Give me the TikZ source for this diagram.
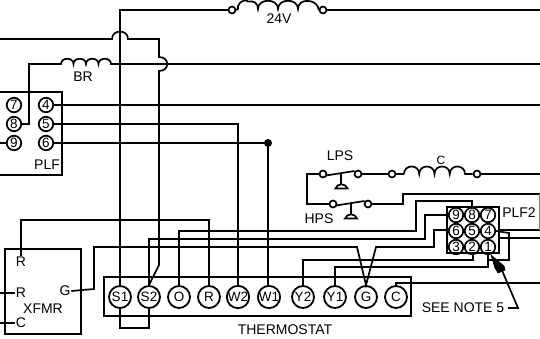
\documentclass[tikz,border=0pt]{standalone}
\usepackage{fontspec}
\setmainfont{Liberation Sans}
\newcommand{\coilseg}[2]{.. controls +(0,-#2) and +(0,-#2) .. ++(#1,0)
 .. controls +(0,-#2) and +(0,-#2) .. ++(#1,0)
 .. controls +(0,-#2) and +(0,-#2) .. ++(#1,0)
 .. controls +(0,-#2) and +(0,-#2) .. ++(#1,0)}
\begin{document}
\begin{tikzpicture}[x=1pt,y=-1pt,line width=1.7pt,line join=miter,
  term/.style={draw,circle,inner sep=0pt,minimum size=22pt,font=\fontsize{13.5}{14}\selectfont,line width=1.8pt},
  pin/.style={draw,circle,inner sep=0pt,minimum size=14.5pt,font=\fontsize{13.5}{14}\selectfont,line width=1.7pt},
  contact/.style={draw,circle,inner sep=0pt,minimum size=7pt,fill=white,line width=1.7pt},
  lbl/.style={inner sep=0pt,font=\fontsize{14}{14}\selectfont},
  joint/.style={circle,fill=black,inner sep=0pt,minimum size=8pt},
  boxed/.style={draw,line width=1.7pt}]
\useasboundingbox (0,0) rectangle (540,338);
% boxes
\draw[boxed,line width=1.3pt] (0,92) -- (62,92) -- (62,175) -- (0,175);
\draw[boxed] (5,249) rectangle (81,334);
\draw[boxed] (104,277) rectangle (411,316);
\draw[boxed,fill=white] (447,207) rectangle (499,253);
% thermostat terminals
\foreach \n/\t/\x in {S1/S1/120,S2/S2/149,O/O/179,R/R/209,W2/W2/238,W1/W1/269,Y2/Y2/303,Y1/Y1/335,G/G/366,C/C/396}
  \node[term] (\n) at (\x,297) {\t};
% PLF pins
\foreach \n/\x/\y in {7/14/105,4/46/105,8/14/124,5/46/124,9/14/143,6/46/143}
  \node[pin] (p\n) at (\x,\y) {\n};
% PLF2 pins
\foreach \n/\x/\y in {9/456/215,8/472/215,7/488/215,6/456/231,5/472/231,4/488/231,3/456/247,2/472/247,1/488/247}
  \node[pin] (q\n) at (\x,\y) {\n};
% contacts
\node[contact] (t1) at (232,10) {};
\node[contact] (t2) at (323,10) {};
\node[contact] (l1) at (323,174) {};
\node[contact] (l2) at (358,174) {};
\node[contact] (l3) at (392,174) {};
\node[contact] (l4) at (477,174) {};
\node[contact] (h1) at (333,204) {};
\node[contact] (h2) at (368,204) {};
\node[joint] (dot) at (268,143) {};
% labels
\node[lbl] (lab24) at (279,19) {24V};
\node[lbl] (labBR) at (83,77) {BR};
\node[lbl] (labPLF) at (47,165) {PLF};
\node[lbl] (labLPS) at (340,156) {LPS};
\node[lbl,font=\fontsize{12}{12}\selectfont] (labC) at (441,160) {C};
\node[lbl] (labHPS) at (319,219) {HPS};
\node[lbl] (labPLF2) at (519,213) {PLF2};
\node[lbl] (labTH) at (285,330) {THERMOSTAT};
\node[lbl] (labNote) at (463,308) {SEE NOTE 5};
\node[lbl] (xR1) at (21,262) {R};
\node[lbl] (xR2) at (21,293) {R};
\node[lbl] (xC) at (21,323) {C};
\node[lbl] (xG) at (65,291) {G};
\node[lbl] (xX) at (43,309) {XFMR};
% free ends
\coordinate (eL39) at (0,39);
\coordinate (eR10) at (540,10);
\coordinate (eR64) at (540,64);
\coordinate (eR105) at (540,105);
\coordinate (eR174) at (540,174);
\coordinate (eR194) at (540,194);
\coordinate (eR230) at (540,230);
\coordinate (eR238) at (540,238);
\coordinate (eR283) at (540,283);
\coordinate (eL143) at (0,143);
\coordinate (eL293) at (0,293);
\coordinate (eL323) at (0,323);
% top 24V line
\draw (S1.north) -- (120,10) -- (t1.west);
\draw (t1.east) .. controls +(2,-1) and +(0,3) .. (238,6)
  .. controls +(2,-6) and +(-1,-2) .. (248,1.5) .. controls +(6,-1) and +(0,-6) .. (258,9)
  .. controls +(0,-11) and +(0,-11) .. (278,9) .. controls +(0,-11) and +(0,-11) .. (298,9)
  .. controls +(0,-11) and +(-3,-8) .. (318,7) -- (t2.west);
\draw (t2.east) -- (eR10);
% hopped line
\draw (eL39) -- (112,39) .. controls (112,29) and (128,29) .. (128,39) -- (159,39) -- (159,57)
  .. controls (170,57) and (170,71) .. (159,71) -- (159,265) -- (S2.north);
% BR line
\draw (p8.east) -- (29,124) -- (29,64) -- (61,64) \coilseg{12.5}{7} -- (eR64);
% PLF lines
\draw (p4.east) -- (eR105);
\draw (p5.east) -- (238,124) -- (W2.north);
\draw (p6.east) -- (dot.center) -- (W1.north -| dot) -- (W1.north);
\draw (eL143) -- (p9.west);
% pressure switches
\draw (l1.west) -- (307,174) -- (307,204) -- (h1.west);
\draw (326,175.5) -- (354.5,171);
\draw (341,173) -- (341,185);
\draw[fill=white] (335.5,188.5) .. controls (337,183) and (346,183) .. (347.5,188.5) -- cycle;
\draw (l2.east) -- (l3.west);
\draw (l3.east) -- (404,174);
\draw (404,174) \coilseg{15.25}{10} -- (l4.west);
\draw (l4.east) -- (eR174);
\draw (336,205.5) -- (364.5,201);
\draw (351,203) -- (351,216);
\draw[fill=white] (345,218.5) .. controls (347,213) and (355,213) .. (357,218.5) -- cycle;
\draw (h2.east) -- (403,204) -- (403,194) -- (eR194);
% xfmr wiring
\draw (xR1.north) -- (21,220) -- (209,220) -- (R.north);
\draw (xG.east) -- (94,289) -- (94,247) -- (357,247) -- (G.north) -- (376,247) -- (434,247) -- (434,230) -- (447,230);
\draw (eL293) -- (xR2.west);
\draw (eL323) -- (xC.west);
% thermostat to PLF2
\draw (O.north) -- (179,231) -- (416,231) -- (416,201) -- (472,201) -- (q8.north);
\draw (S2.north) -- (149,239) -- (425,239) -- (425,215) -- (447,215);
\draw (Y2.north) -- (303,260) -- (473,260) -- (473,253);
\draw (Y1.north) -- (335,267) -- (488,267) -- (q1.south);
\draw (S1.south) -- (120,328) -- (149,328) -- (S2.south);
\draw (C.north) -- (396,283) -- (eR283);
\draw (q4.east) -- (509,233) -- (509,260) -- (488,260);
\draw (499,238) -- (eR238);
\draw[line width=1.3pt] (499,230) -- (eR230);
\draw[line width=0.8pt,gray] (539.5,194) -- (539.5,230);
% note arrow
\draw (labNote.east) ++(3,0) -- (518,308) -- (501,268);
\draw[fill=black,line width=0.6pt,line join=round] (491,255) -- (504,266) -- (505,270) -- (498,273) -- (495,268) -- cycle;
\end{tikzpicture}
\end{document}
